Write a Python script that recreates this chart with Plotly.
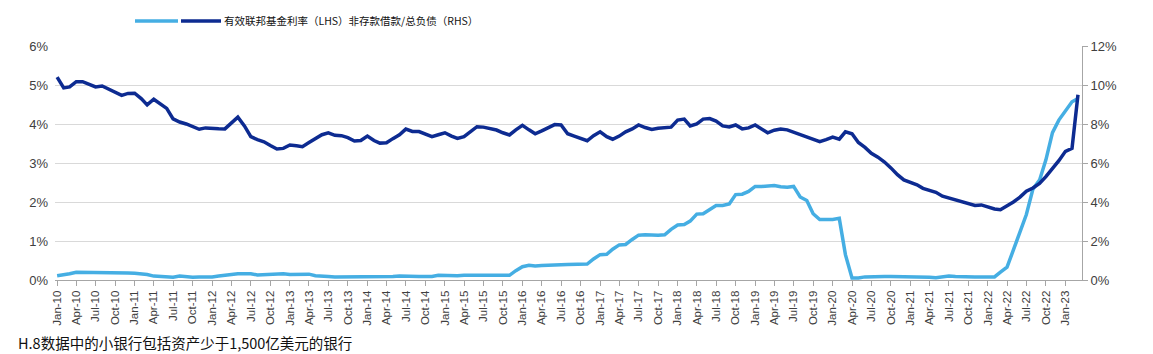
import pandas as pd
import plotly.graph_objects as go

dates = pd.date_range("2010-01-01", periods=159, freq="MS")

fed_funds = [
    0.11, 0.13, 0.16, 0.20, 0.20, 0.18, 0.18, 0.19, 0.19, 0.19, 0.19, 0.18,
    0.17, 0.16, 0.14, 0.10, 0.09, 0.09, 0.07, 0.10, 0.08, 0.07, 0.08, 0.07,
    0.08, 0.10, 0.13, 0.14, 0.16, 0.16, 0.16, 0.13, 0.14, 0.16, 0.16, 0.16,
    0.14, 0.15, 0.14, 0.15, 0.11, 0.09, 0.09, 0.08, 0.08, 0.09, 0.08, 0.09,
    0.07, 0.07, 0.08, 0.09, 0.09, 0.10, 0.09, 0.09, 0.09, 0.09, 0.09, 0.12,
    0.11, 0.11, 0.11, 0.12, 0.12, 0.13, 0.13, 0.14, 0.14, 0.12, 0.12, 0.24,
    0.34, 0.38, 0.36, 0.37, 0.37, 0.38, 0.39, 0.40, 0.40, 0.40, 0.41, 0.54,
    0.65, 0.66, 0.79, 0.90, 0.91, 1.04, 1.15, 1.16, 1.15, 1.15, 1.16, 1.30,
    1.41, 1.42, 1.51, 1.69, 1.70, 1.82, 1.91, 1.91, 1.95, 2.19, 2.20, 2.27,
    2.40, 2.40, 2.41, 2.42, 2.39, 2.38, 2.40, 2.13, 2.04, 1.70, 1.55, 1.55,
    1.55, 1.58, 0.65, 0.05, 0.05, 0.08, 0.09, 0.10, 0.09, 0.09, 0.09, 0.09,
    0.09, 0.08, 0.07, 0.07, 0.06, 0.08, 0.10, 0.09, 0.08, 0.08, 0.08, 0.08,
    0.08, 0.08, 0.20, 0.33, 0.77, 1.21, 1.68, 2.33, 2.56, 3.08, 3.78, 4.10,
    4.33, 4.57, 4.65,
]

nondeposit_ratio = [
    10.4, 9.85, 9.9, 10.17, 10.17, 10.05, 9.9, 9.95, 9.8, 9.62, 9.47, 9.57,
    9.58, 9.3, 8.98, 9.27, 9.06, 8.8, 8.26, 8.1, 8.0, 7.85, 7.73, 7.8,
    7.8, 7.76, 7.75, 8.05, 8.35, 7.9, 7.35, 7.2, 7.09, 6.9, 6.72, 6.75,
    6.92, 6.88, 6.84, 7.05, 7.25, 7.45, 7.55, 7.42, 7.4, 7.3, 7.13, 7.15,
    7.38, 7.15, 7.02, 7.04, 7.25, 7.45, 7.74, 7.62, 7.61, 7.5, 7.35, 7.45,
    7.55, 7.38, 7.26, 7.35, 7.6, 7.86, 7.84, 7.75, 7.69, 7.55, 7.44, 7.7,
    7.93, 7.7, 7.5, 7.65, 7.82, 7.97, 7.95, 7.5, 7.38, 7.25, 7.14, 7.4,
    7.6, 7.35, 7.22, 7.38, 7.6, 7.75, 7.95, 7.82, 7.72, 7.78, 7.8, 7.84,
    8.2, 8.25, 7.9, 8.0, 8.25, 8.28, 8.15, 7.9, 7.85, 7.95, 7.75, 7.8,
    7.95, 7.75, 7.55, 7.68, 7.74, 7.7, 7.58, 7.45, 7.3, 7.18, 7.09, 7.2,
    7.33, 7.22, 7.6, 7.5, 7.05, 6.8, 6.5, 6.3, 6.05, 5.75, 5.4, 5.13,
    5.02, 4.88, 4.7, 4.62, 4.5, 4.3, 4.2, 4.08, 3.98, 3.88, 3.82, 3.85,
    3.74, 3.64, 3.6, 3.78, 4.0, 4.25, 4.55, 4.72, 4.95, 5.3, 5.7, 6.12,
    6.6, 6.75, 9.5,
]

name_lhs = "有效联邦基金利率（LHS）"
name_rhs = "非存款借款/总负债（RHS）"
footnote = "H.8数据中的小银行包括资产少于1,500亿美元的银行"

LIGHT = "#45AEE3"
DARK = "#0D2B91"
W, H = 1153, 354
L, R, T, B = 55, 71, 46, 74
pw, ph = W - L - R, H - T - B

def px_x(x):
    return (x - L) / pw

def px_y(y):
    return (H - B - y) / ph

fig = go.Figure()
fig.add_trace(go.Scatter(x=dates, y=fed_funds, name=name_lhs, mode="lines",
                         line=dict(color=LIGHT, width=3.5), yaxis="y", showlegend=False))
fig.add_trace(go.Scatter(x=dates, y=nondeposit_ratio, name=name_rhs, mode="lines",
                         line=dict(color=DARK, width=3.5), yaxis="y2", showlegend=False))

tick_font = dict(family="Liberation Sans, Arial, sans-serif", size=13, color="#404040")

fig.update_layout(
    width=W, height=H,
    margin=dict(l=L, r=R, t=T, b=B),
    paper_bgcolor="white", plot_bgcolor="white",
    xaxis=dict(
        type="date",
        range=["2009-12-22", "2023-03-20"],
        tick0="2010-01-01", dtick="M3", tickformat="%b-%y",
        tickangle=-90,
        tickfont=dict(family="Liberation Sans, Arial, sans-serif", size=11.5, color="#404040"),
        showgrid=False, showline=True, linecolor="#a6a6a6", linewidth=1,
        ticks="outside", ticklen=5, tickcolor="#a6a6a6",
        zeroline=False,
    ),
    yaxis=dict(
        range=[0, 6], dtick=1, ticksuffix="%",
        tickfont=tick_font,
        showgrid=True, gridcolor="#d9d9d9", gridwidth=1,
        showline=False, zeroline=False, ticks="",
        ticklabelstandoff=6,
    ),
    yaxis2=dict(
        range=[0, 12], dtick=2, ticksuffix="%",
        overlaying="y", side="right",
        tickfont=tick_font,
        showgrid=False, showline=True, linecolor="#a6a6a6", linewidth=1,
        ticks="outside", ticklen=5, tickcolor="#a6a6a6",
        zeroline=False,
    ),
)

# legend drawn as in the reference: two line samples followed by both labels
ly = px_y(21)
fig.add_shape(type="line", xref="paper", yref="paper",
              x0=px_x(135), x1=px_x(178), y0=ly, y1=ly,
              line=dict(color=LIGHT, width=3.5))
fig.add_shape(type="line", xref="paper", yref="paper",
              x0=px_x(181), x1=px_x(221), y0=ly, y1=ly,
              line=dict(color=DARK, width=3.5))
fig.add_annotation(xref="paper", yref="paper", x=px_x(222), y=ly,
                   xanchor="left", yanchor="middle", showarrow=False,
                   text=name_lhs + name_rhs,
                   font=dict(family="Noto Sans CJK SC", size=10.5, color="#111111"))

fig.add_annotation(xref="paper", yref="paper", x=px_x(16), y=px_y(342),
                   xanchor="left", yanchor="middle", showarrow=False,
                   text=footnote,
                   font=dict(family="Noto Sans CJK SC", size=14.5, color="#111111"))

fig.write_html("out.html")
